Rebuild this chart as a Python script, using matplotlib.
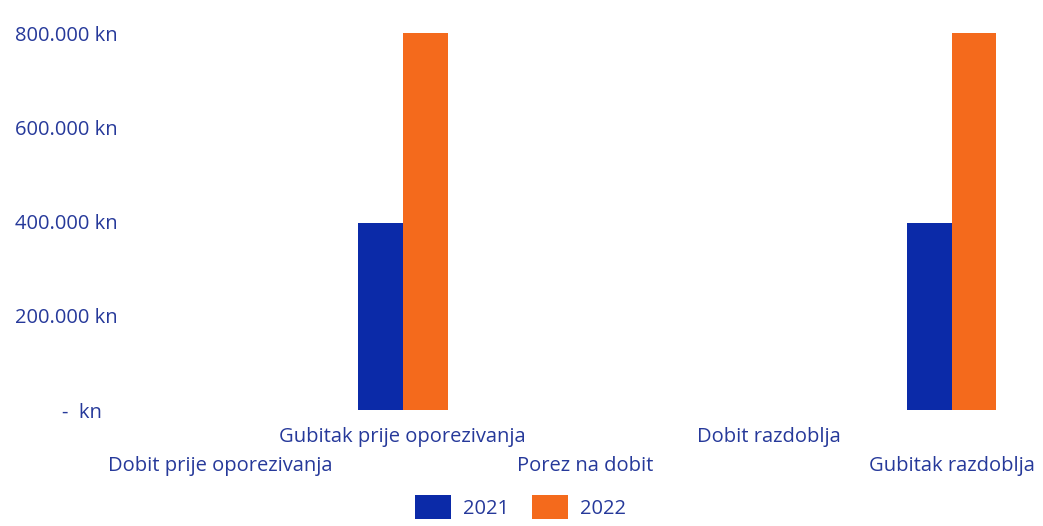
import matplotlib
matplotlib.use('agg')
import matplotlib.pyplot as plt
import numpy as np
from matplotlib.ticker import FuncFormatter

# categories and values (kn)
categories = ['Dobit prije oporezivanja', 'Gubitak prije oporezivanja', 'Porez na dobit',
              'Dobit razdoblja', 'Gubitak razdoblja']
values_2021 = [0, 398000, 0, 0, 398000]
values_2022 = [0, 800000, 0, 0, 800000]
series_names = ['2021', '2022']

text_color = '#26399a'
blue = '#0b2aa8'
orange = '#f46a1c'

plt.rcParams['font.family'] = ['Open Sans', 'DejaVu Sans']

fig = plt.figure(figsize=(10.43, 5.26), dpi=100)
ax = fig.add_axes([0.123, 0.2205, 0.877, 0.7165])

x = np.arange(len(categories))
width = 0.245
ax.bar(x - width / 2, values_2021, width, color=blue, label=series_names[0])
ax.bar(x + width / 2, values_2022, width, color=orange, label=series_names[1])

ax.set_xlim(-0.5, len(categories) - 0.5)
ax.set_ylim(0, 800000)
ax.set_yticks([0, 200000, 400000, 600000, 800000])


def kn_format(v, pos):
    if v == 0:
        return '-  kn   '
    return '{:,.0f} kn'.format(v).replace(',', '.')


ax.yaxis.set_major_formatter(FuncFormatter(kn_format))
ax.tick_params(axis='y', length=0, pad=8, labelsize=14.5, labelcolor=text_color)

ax.set_xticks(x)
ax.set_xticklabels(categories)
ax.tick_params(axis='x', length=0, labelsize=14.5, labelcolor=text_color)
# staggered category labels
for i, tick in enumerate(ax.xaxis.get_major_ticks()):
    tick.set_pad(12 if i % 2 == 1 else 33)

for s in ax.spines.values():
    s.set_visible(False)

fig.legend(loc='lower center', bbox_to_anchor=(0.499, -0.022), ncol=2, frameon=False,
           fontsize=14.5, labelcolor=text_color, handlelength=1.8, handleheight=1.5,
           columnspacing=1.1, handletextpad=0.6)

plt.savefig('out.png', dpi=100)
plt.close()
